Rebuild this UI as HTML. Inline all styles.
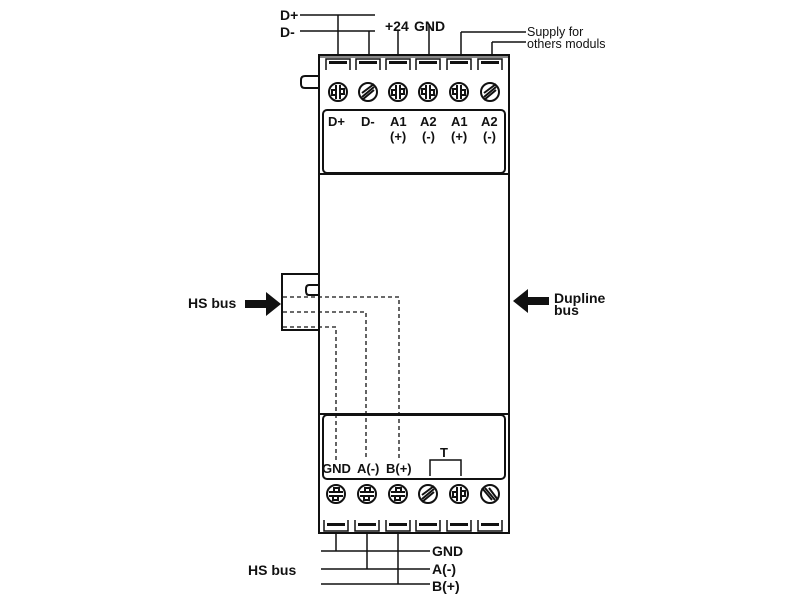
<!DOCTYPE html>
<html><head><meta charset="utf-8"><style>
html,body{margin:0;padding:0;background:#fff;}
svg{display:block;}
text{font-family:"Liberation Sans",Arial,sans-serif;fill:#111;}
.b{font-weight:bold;font-size:14px;}
.s{font-weight:bold;font-size:13px;}
</style></head><body>
<svg width="800" height="600" viewBox="0 0 800 600" xmlns="http://www.w3.org/2000/svg">
<defs>
<g id="clampT" fill="none" stroke="#111">
  <path d="M-12 70 V59 H12 V70" stroke-width="1.5"/>
  <rect x="-9" y="61" width="18" height="3" fill="#111" stroke="none"/>
</g>
<g id="clampB" fill="none" stroke="#111">
  <path d="M-12 520 V531 H12 V520" stroke-width="1.5"/>
  <rect x="-9" y="523" width="18" height="3" fill="#111" stroke="none"/>
</g>
<g id="scrA" fill="none" stroke="#111" stroke-width="2">
  <circle r="9"/><path d="M-2 -7 V7 M2 -7 V7 M-2 -2 H-6 V3 H-2 M2 -3 H6 V2 H2"/>
</g>
<g id="scrB" fill="none" stroke="#111" stroke-width="2">
  <circle r="9"/><path d="M-6 5 L6 -5 M-6 1 L6 -8 M-6 8 L6 -2"/>
</g>
<g id="scrC" fill="none" stroke="#111" stroke-width="2">
  <circle r="9"/><path d="M-7 -2 H7 M-7 2 H7 M-2 -2 V-6 H3 V-2 M-3 2 V6 H2 V2"/>
</g>
</defs>
<g fill="none" stroke="#111" stroke-width="2">
  <rect x="319" y="55" width="190" height="478"/>
  <path d="M319 57 H509" stroke-width="1"/>
  <rect x="323" y="110" width="182" height="63" rx="4"/>
  <line x1="319" y1="174" x2="509" y2="174"/>
  <line x1="319" y1="414" x2="509" y2="414"/>
  <rect x="323" y="415" width="182" height="64" rx="4"/>
  <path d="M319 76 H305 Q301 76 301 80 V84 Q301 88 305 88 H319"/>
  <path d="M319 274 H282 V330 H319"/>
  <path d="M319 285 H309 Q306 285 306 289 V291 Q306 295 309 295 H319"/>
  <path d="M300 15 H375 M300 31 H375" stroke-width="1.5"/>
  <path d="M338 15 V56 M369 31 V56 M398 30 V56 M429 24 V56 M461 32 V56 M492 42 V56" stroke-width="1.5"/>
  <path d="M461 32 H526 M492 42 H526" stroke-width="1.5"/>
  <path d="M336 532 V551 M367 532 V569 M398 532 V584" stroke-width="1.5"/>
  <path d="M321 551 H430 M321 569 H430 M321 584 H430" stroke-width="1.5"/>
  <path d="M430 476 V460 H461 V476" stroke-width="1.5"/>
  <g stroke-width="1.3" stroke-dasharray="4,3">
    <path d="M283 297 H399 V460"/>
    <path d="M283 312 H366 V460"/>
    <path d="M283 327 H336 V460"/>
  </g>
</g>
<g>
  <use href="#clampT" x="338"/><use href="#clampT" x="368"/><use href="#clampT" x="398"/>
  <use href="#clampT" x="428"/><use href="#clampT" x="459"/><use href="#clampT" x="490"/>
  <use href="#scrA" transform="translate(338,92)"/>
  <use href="#scrB" transform="translate(368,92)"/>
  <use href="#scrA" transform="translate(398,92)"/>
  <use href="#scrC" transform="translate(428,92) rotate(90)"/>
  <use href="#scrC" transform="translate(459,92) rotate(90)"/>
  <use href="#scrB" transform="translate(490,92)"/>
  <use href="#clampB" x="336"/><use href="#clampB" x="367"/><use href="#clampB" x="398"/>
  <use href="#clampB" x="428"/><use href="#clampB" x="459"/><use href="#clampB" x="490"/>
  <use href="#scrC" transform="translate(336,494)"/>
  <use href="#scrC" transform="translate(367,494)"/>
  <use href="#scrC" transform="translate(398,494)"/>
  <use href="#scrB" transform="translate(428,494)"/>
  <use href="#scrA" transform="translate(459,494)"/>
  <use href="#scrB" transform="translate(490,494) rotate(90)"/>
</g>
<path d="M245 300 H266 V292 L281 304 L266 316 V308 H245 Z" fill="#111"/>
<path d="M549 297 H528 V289 L513 301 L528 313 V305 H549 Z" fill="#111"/>
<text class="b" x="280" y="20">D+</text>
<text class="b" x="280" y="37">D-</text>
<text class="b" x="385" y="31">+24</text>
<text class="b" x="414" y="31">GND</text>
<text x="527" y="36" font-size="12.5">Supply for</text>
<text x="527" y="48" font-size="12.5">others moduls</text>
<text class="s" x="328" y="126">D+</text>
<text class="s" x="361" y="126">D-</text>
<text class="s" x="390" y="126">A1</text>
<text class="s" x="420" y="126">A2</text>
<text class="s" x="451" y="126">A1</text>
<text class="s" x="481" y="126">A2</text>
<text class="s" x="390" y="141">(+)</text>
<text class="s" x="422" y="141">(-)</text>
<text class="s" x="451" y="141">(+)</text>
<text class="s" x="483" y="141">(-)</text>
<text class="b" x="188" y="308">HS bus</text>
<text class="b" x="554" y="303">Dupline</text>
<text class="b" x="554" y="315">bus</text>
<text class="s" x="322" y="473">GND</text>
<text class="s" x="357" y="473">A(-)</text>
<text class="s" x="386" y="473">B(+)</text>
<text class="s" x="440" y="457">T</text>
<text class="b" x="432" y="556">GND</text>
<text class="b" x="432" y="574">A(-)</text>
<text class="b" x="432" y="591">B(+)</text>
<text class="b" x="248" y="575">HS bus</text>
</svg>
</body></html>
